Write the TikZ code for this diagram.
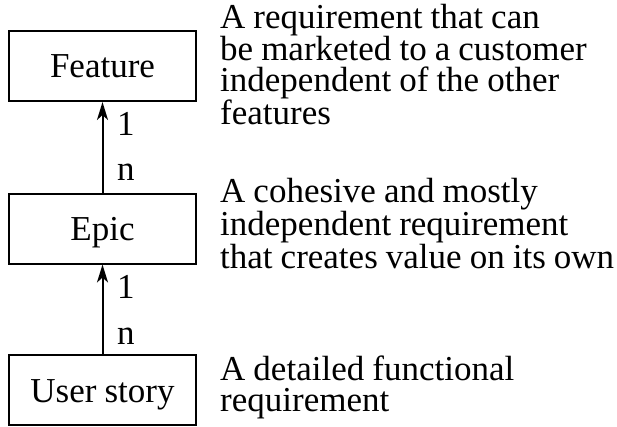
\documentclass[tikz,border=0pt]{standalone}
\usepackage{fontspec}
\setmainfont{Liberation Serif}
\usetikzlibrary{arrows.meta}
\newcommand{\bigtext}{\fontsize{35}{31}\selectfont\spaceskip=0.23em plus 0.1em minus 0.05em\relax}
\tikzset{
  box/.style={draw, line width=2pt, minimum width=187pt, minimum height=70pt, inner sep=0pt, text height=24pt, text depth=0pt, font=\bigtext},
  lbl/.style={anchor=base west, inner sep=0pt, font=\bigtext},
  desc/.style={anchor=base west, inner sep=0pt, align=left, font=\bigtext},
  conn/.style={line width=2pt, -{Stealth[length=18pt,width=11pt,inset=5pt]}}
}
\begin{document}
\begin{tikzpicture}[x=1pt,y=1pt]
\useasboundingbox (0,0) rectangle (617,426);
\node[box] (feature) at (102.5,360) {Feature};
\node[box] (epic) at (102.5,197.5) {Epic};
\node[box] (story) at (102.5,36) {User story};
\draw[conn] (epic.north) -- (feature.south);
\draw[conn] (story.north) -- (epic.south);
\node[lbl] (f1) at (117,290) {1};
\node[lbl] (fn) at (117,245) {n};
\node[lbl] (e1) at (117,128) {1};
\node[lbl] (en) at (117,82) {n};
\node[desc] (dfeature) at (220,301) {A requirement that can\\be marketed to a customer\\independent of the other\\features};
\node[desc] (depic) at (220,158) {A cohesive and mostly\\independent requirement\\that creates value on its own};
\node[desc] (dstory) at (220,15) {A detailed functional\\requirement};
\end{tikzpicture}
\end{document}
